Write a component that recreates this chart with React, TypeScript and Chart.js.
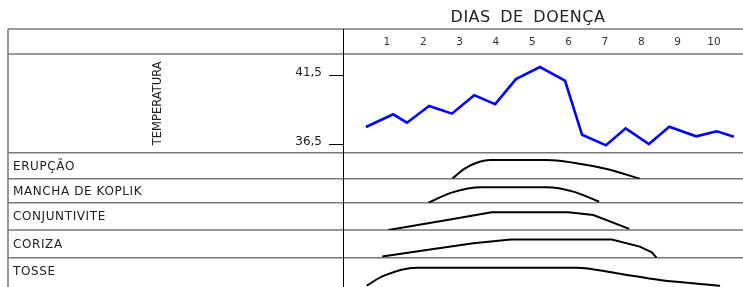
import React, { useEffect, useRef } from 'react';
import { Chart, registerables } from 'chart.js';

Chart.register(...registerables);

// ---------- data ----------
const TITLE = 'DIAS DE DOENÇA';
const DAY_LABELS = ['1', '2', '3', '4', '5', '6', '7', '8', '9', '10'];
const DAY_VALUES = [1, 2, 3, 4, 5, 6, 7, 8, 9, 10];

const TEMP_LABEL = 'TEMPERATURA';
const TEMP_TICKS = [36.5, 41.5];
const TEMP_TICK_LABELS = ['36,5', '41,5'];
const TEMP_DAYS = [0.42, 1.17, 1.55, 2.16, 2.79, 3.4, 3.98, 4.55, 5.21, 5.9, 6.37, 7.03, 7.57, 8.21, 8.77, 9.51, 10.08, 10.55];
const TEMP_VALUES = [37.75, 38.66, 38.06, 39.26, 38.71, 40.04, 39.39, 41.19, 42.06, 41.09, 37.19, 36.43, 37.65, 36.52, 37.77, 37.08, 37.44, 37.05];

const ROW_LABELS = ['ERUPÇÃO', 'MANCHA DE KOPLIK', 'CONJUNTIVITE', 'CORIZA', 'TOSSE'];

const ERUPCAO_DAYS = [2.8, 3.15, 3.47, 3.84, 5.4, 6.13, 7.05, 7.96];
const ERUPCAO_VALUES = [0.01, 0.4, 0.615, 0.72, 0.72, 0.615, 0.37, 0.0];

const KOPLIK_DAYS = [2.14, 2.78, 3.61, 5.4, 6.13, 6.84];
const KOPLIK_VALUES = [0.0, 0.42, 0.64, 0.64, 0.46, 0.04];

const CONJ_DAYS = [1.04, 2.82, 3.88, 5.99, 6.68, 7.67];
const CONJ_VALUES = [0.0, 0.4, 0.65, 0.65, 0.55, 0.04];

const CORIZA_DAYS = [0.87, 2.09, 3.38, 4.41, 7.19, 7.96, 8.29, 8.42];
const CORIZA_VALUES = [0.04, 0.28, 0.52, 0.66, 0.66, 0.4, 0.19, 0.0];

const TOSSE_DAYS = [0.44, 0.9, 1.82, 6.22, 7.32, 8.51, 10.17];
const TOSSE_VALUES = [0.044, 0.38, 0.66, 0.66, 0.47, 0.24, 0.044];

// ---------- helpers ----------
const zip = (xs: number[], ys: number[]) => xs.map((x, i) => ({ x, y: ys[i] }));

const FONT = '"DejaVu Sans", sans-serif';
const ROW_AXES = ['yErup', 'yKop', 'yConj', 'yCor', 'yTosse'];

const tablePlugin = {
  id: 'tablePlugin',
  beforeDatasetsDraw(chart: any) {
    const { ctx, chartArea, scales } = chart;
    const xs = scales.x;
    const yt = scales.yTemp;
    const leftEdge = 8;
    const rightEdge = chart.width;
    const headerTop = 29;
    const headerBottom = chartArea.top;
    const bottom = chart.height;
    const c = ctx as any;

    ctx.save();
    // title
    ctx.fillStyle = '#222';
    ctx.font = `16px ${FONT}`;
    ctx.textAlign = 'center';
    ctx.textBaseline = 'middle';
    c.letterSpacing = '0.5px';
    c.wordSpacing = '4px';
    ctx.fillText(TITLE, 528, 18);
    c.letterSpacing = '0px';
    c.wordSpacing = '0px';

    // horizontal table lines
    ctx.strokeStyle = '#777';
    ctx.lineWidth = 1.5;
    const hLines = [headerTop, headerBottom, ...ROW_AXES.map((id) => scales[id].top)];
    hLines.forEach((y) => {
      ctx.beginPath();
      ctx.moveTo(leftEdge, y);
      ctx.lineTo(rightEdge, y);
      ctx.stroke();
    });
    // left border
    ctx.beginPath();
    ctx.moveTo(leftEdge, headerTop);
    ctx.lineTo(leftEdge, bottom);
    ctx.stroke();

    // divider
    ctx.strokeStyle = '#000';
    ctx.lineWidth = 1;
    ctx.beginPath();
    ctx.moveTo(chartArea.left + 0.5, headerTop);
    ctx.lineTo(chartArea.left + 0.5, bottom);
    ctx.stroke();

    // day labels
    ctx.fillStyle = '#333';
    ctx.font = `10.5px ${FONT}`;
    ctx.textAlign = 'center';
    ctx.textBaseline = 'middle';
    DAY_VALUES.forEach((d, i) => {
      ctx.fillText(DAY_LABELS[i], xs.getPixelForValue(d), (headerTop + headerBottom) / 2 + 1);
    });

    // temperature ticks
    ctx.font = `12px ${FONT}`;
    ctx.fillStyle = '#222';
    ctx.textAlign = 'right';
    ctx.strokeStyle = '#000';
    ctx.lineWidth = 1;
    TEMP_TICKS.forEach((v, i) => {
      const y = Math.round(yt.getPixelForValue(v)) + 0.5;
      ctx.beginPath();
      ctx.moveTo(chartArea.left - 14, y);
      ctx.lineTo(chartArea.left, y);
      ctx.stroke();
      ctx.fillText(TEMP_TICK_LABELS[i], chartArea.left - 21, y - 3);
    });

    // TEMPERATURA vertical label
    ctx.save();
    ctx.translate(158, (yt.top + yt.bottom) / 2);
    ctx.rotate(-Math.PI / 2);
    ctx.textAlign = 'center';
    ctx.textBaseline = 'middle';
    ctx.font = `11.5px ${FONT}`;
    ctx.fillText(TEMP_LABEL, 0, 0);
    ctx.restore();

    // row labels
    ctx.font = `12px ${FONT}`;
    c.letterSpacing = '0.6px';
    ctx.textAlign = 'left';
    ctx.textBaseline = 'middle';
    ROW_AXES.forEach((id, i) => {
      const s = scales[id];
      const yc = id === 'yTosse' ? s.top + 13 : (s.top + s.bottom) / 2;
      ctx.fillText(ROW_LABELS[i], 13, yc + 1);
    });
    c.letterSpacing = '0px';
    ctx.restore();
  },
};

const symptomDataset = (xs: number[], ys: number[], axis: string, smooth: boolean) => ({
  data: zip(xs, ys),
  yAxisID: axis,
  borderColor: '#000',
  borderWidth: 2,
  pointRadius: 0,
  tension: 0,
  cubicInterpolationMode: smooth ? ('monotone' as const) : ('default' as const),
  fill: false,
});

const rowScale = (weight: number, stackWeight: number) => ({
  type: 'linear' as const,
  display: false,
  min: 0,
  max: 1,
  position: 'left' as const,
  stack: 'rows',
  stackWeight,
  weight,
});

export default function App() {
  const ref = useRef<HTMLCanvasElement | null>(null);

  useEffect(() => {
    if (!ref.current) return;
    const chart = new Chart(ref.current, {
      type: 'line',
      data: {
        datasets: [
          {
            data: zip(TEMP_DAYS, TEMP_VALUES),
            yAxisID: 'yTemp',
            borderColor: '#0000ff',
            borderWidth: 2.6,
            pointRadius: 0,
            tension: 0,
            fill: false,
          },
          symptomDataset(ERUPCAO_DAYS, ERUPCAO_VALUES, 'yErup', true),
          symptomDataset(KOPLIK_DAYS, KOPLIK_VALUES, 'yKop', true),
          symptomDataset(CONJ_DAYS, CONJ_VALUES, 'yConj', false),
          symptomDataset(CORIZA_DAYS, CORIZA_VALUES, 'yCor', false),
          symptomDataset(TOSSE_DAYS, TOSSE_VALUES, 'yTosse', true),
        ],
      },
      options: {
        animation: false,
        responsive: false,
        devicePixelRatio: 1,
        events: [],
        layout: { padding: { left: 343, top: 54, right: 0, bottom: 0 } },
        plugins: { legend: { display: false }, tooltip: { enabled: false }, title: { display: false } },
        scales: {
          x: { type: 'linear', min: -0.21, max: 10.8, display: false },
          yTemp: {
            type: 'linear',
            display: false,
            min: 35.9,
            max: 43.0,
            position: 'left',
            stack: 'rows',
            stackWeight: 98.7,
            weight: 6,
          },
          yErup: rowScale(5, 26),
          yKop: rowScale(4, 24),
          yConj: rowScale(3, 27.3),
          yCor: rowScale(2, 27.7),
          yTosse: rowScale(1, 29.3),
        },
      },
      plugins: [tablePlugin],
    });
    return () => chart.destroy();
  }, []);

  return (
    <div style={{ position: 'absolute', left: 0, top: 0, width: 743, height: 287, background: '#fff' }}>
      <canvas ref={ref} width={743} height={287} style={{ display: 'block', width: 743, height: 287 }} />
    </div>
  );
}
